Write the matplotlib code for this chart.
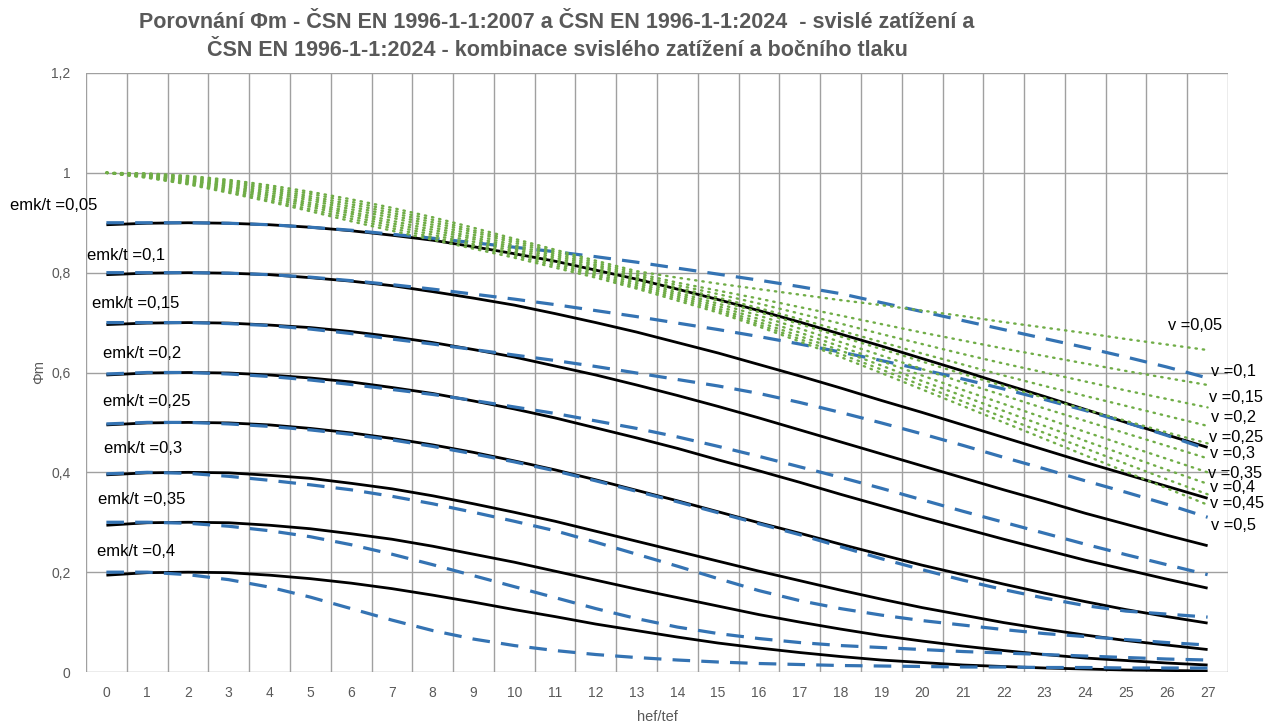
import matplotlib
matplotlib.use("Agg")
import matplotlib.pyplot as plt
from matplotlib.ticker import FixedLocator, FuncFormatter

# hef/tef categories
x = list(range(28))

emk_labels = ['0,05', '0,1', '0,15', '0,2', '0,25', '0,3', '0,35', '0,4']

# ČSN EN 1996-1-1:2007 - black solid lines
phi_2007 = [
    [.896, .899, .900, .899, .896, .891, .884, .875, .865, .852, .838, .823, .805, .787, .767, .746, .724, .701, .677, .653, .628, .603, .577, .552, .526, .500, .475, .450],
    [.796, .799, .800, .799, .796, .790, .783, .774, .762, .749, .735, .718, .700, .681, .660, .639, .616, .593, .569, .544, .520, .495, .470, .445, .420, .396, .372, .348],
    [.696, .699, .700, .699, .695, .690, .682, .672, .660, .646, .631, .613, .595, .575, .554, .532, .509, .485, .461, .437, .413, .389, .365, .342, .318, .296, .274, .253],
    [.595, .599, .600, .599, .595, .589, .581, .570, .558, .543, .527, .509, .489, .469, .448, .425, .403, .380, .356, .333, .310, .288, .266, .245, .224, .205, .186, .168],
    [.495, .499, .500, .499, .495, .488, .479, .468, .455, .440, .423, .405, .385, .364, .343, .321, .299, .278, .256, .235, .214, .195, .176, .158, .141, .125, .111, .098],
    [.395, .399, .400, .399, .394, .388, .378, .367, .353, .337, .320, .302, .282, .262, .242, .222, .202, .183, .164, .146, .129, .114, .099, .086, .074, .063, .054, .045],
    [.294, .299, .300, .299, .294, .287, .277, .266, .252, .236, .220, .202, .184, .166, .149, .132, .115, .100, .086, .073, .062, .052, .043, .035, .028, .023, .018, .014],
    [.194, .199, .200, .199, .194, .187, .178, .167, .154, .140, .125, .111, .096, .083, .070, .058, .048, .039, .031, .024, .019, .014, .011, .008, .006, .004, .003, .002],
]

# ČSN EN 1996-1-1:2024 - blue dashed lines
phi_2024 = [
    [.900, .900, .900, .899, .896, .891, .885, .877, .869, .860, .851, .842, .832, .821, .809, .797, .785, .772, .758, .740, .722, .704, .686, .668, .650, .631, .611, .589],
    [.800, .800, .800, .799, .796, .791, .784, .776, .767, .757, .747, .736, .724, .712, .699, .686, .672, .657, .641, .624, .606, .587, .567, .546, .524, .500, .474, .446],
    [.700, .700, .700, .698, .694, .687, .678, .667, .657, .646, .635, .624, .612, .599, .586, .573, .558, .540, .520, .499, .477, .454, .430, .407, .383, .360, .336, .310],
    [.597, .600, .600, .597, .592, .585, .576, .566, .556, .544, .531, .518, .503, .488, .471, .452, .432, .411, .390, .368, .345, .322, .300, .278, .256, .235, .215, .195],
    [.497, .500, .500, .497, .492, .485, .476, .465, .452, .437, .421, .403, .383, .362, .341, .319, .297, .275, .251, .227, .205, .184, .165, .148, .133, .122, .116, .110],
    [.397, .400, .398, .392, .384, .375, .365, .352, .337, .320, .302, .283, .260, .236, .212, .187, .163, .143, .127, .114, .103, .094, .085, .077, .071, .065, .059, .054],
    [.300, .300, .298, .292, .283, .271, .255, .236, .215, .193, .171, .149, .127, .107, .090, .077, .067, .059, .053, .049, .045, .041, .038, .035, .032, .029, .026, .024],
    [.200, .200, .195, .185, .170, .150, .127, .104, .083, .066, .053, .043, .035, .029, .024, .020, .017, .015, .013, .012, .011, .010, .010, .009, .009, .008, .008, .008],
]

v_labels = ['0,05', '0,1', '0,15', '0,2', '0,25', '0,3', '0,35', '0,4', '0,45', '0,5']

# ČSN EN 1996-1-1:2024 - vertical load + lateral pressure, green dotted lines
phi_v = [
    [1.0, .999, .994, .986, .975, .962, .947, .930, .911, .890, .868, .846, .824, .803, .790, .778, .767, .756, .745, .735, .724, .713, .701, .690, .679, .667, .656, .645],
    [1.0, .998, .992, .983, .971, .958, .942, .925, .906, .885, .864, .842, .820, .799, .780, .764, .748, .731, .714, .697, .680, .664, .648, .633, .618, .603, .589, .575],
    [1.0, .997, .990, .980, .968, .953, .937, .920, .901, .881, .860, .838, .816, .795, .775, .757, .738, .718, .698, .677, .657, .637, .618, .600, .582, .564, .547, .530],
    [1.0, .996, .988, .977, .964, .949, .932, .915, .896, .876, .855, .834, .813, .791, .770, .750, .729, .707, .684, .661, .638, .616, .594, .573, .553, .533, .513, .493],
    [1.0, .995, .986, .974, .960, .945, .927, .910, .891, .871, .851, .830, .809, .787, .765, .744, .721, .697, .672, .647, .622, .597, .573, .549, .526, .503, .480, .458],
    [1.0, .994, .985, .972, .956, .940, .922, .904, .886, .867, .847, .826, .805, .783, .760, .738, .714, .688, .661, .634, .607, .580, .554, .528, .503, .478, .453, .428],
    [1.0, .993, .983, .969, .953, .936, .918, .899, .881, .862, .843, .822, .801, .779, .756, .733, .707, .680, .652, .623, .594, .565, .537, .509, .481, .454, .427, .400],
    [1.0, .992, .981, .966, .949, .932, .913, .894, .876, .857, .839, .818, .797, .775, .752, .728, .701, .673, .644, .614, .583, .553, .523, .493, .463, .434, .405, .377],
    [1.0, .991, .979, .963, .945, .927, .908, .889, .871, .853, .834, .814, .794, .771, .748, .724, .696, .667, .637, .606, .574, .542, .510, .479, .448, .417, .386, .356],
    [1.0, .990, .977, .960, .942, .923, .903, .884, .866, .848, .830, .810, .790, .768, .744, .720, .692, .662, .631, .599, .566, .533, .500, .467, .434, .401, .368, .335],
]

W, H = 1268, 722
fig = plt.figure(figsize=(W / 100, H / 100), dpi=100)
ax = fig.add_axes([86 / W, 1 - 672 / H, (1228 - 86) / W, (672 - 73) / H])

grid_col = '#a0a0a0'
txt_col = '#595959'
lab_font = ['Liberation Sans', 'DejaVu Sans']

for ys in phi_2007:
    ax.plot(x, ys, color='black', lw=2.0, solid_capstyle='butt', zorder=3)
for ys in phi_2024:
    ax.plot(x, ys, color='#3473b3', lw=2.3, dashes=(5.5, 3.5), zorder=4)
for ys in phi_v:
    ax.plot(x, ys, color='#70ad47', lw=1.7, dashes=(0.6, 2.5), dash_capstyle='round', zorder=5)

ax.set_xlim(-0.5, 27.5)
ax.set_ylim(0, 1.2)
ax.xaxis.set_major_locator(FixedLocator(x))
ax.xaxis.set_minor_locator(FixedLocator([i - 0.5 for i in range(29)]))
ax.yaxis.set_major_locator(FixedLocator([0, 0.2, 0.4, 0.6, 0.8, 1.0, 1.2]))
ax.yaxis.set_major_formatter(FuncFormatter(lambda v, p: ('%g' % round(v, 1)).replace('.', ',')))
ax.grid(False)
ax.grid(True, which='minor', axis='x', color=grid_col, lw=1.0)
ax.grid(True, which='major', axis='y', color=grid_col, lw=1.0)
ax.tick_params(axis='both', which='both', length=0, colors=txt_col, labelsize=10)
ax.tick_params(axis='x', pad=10)
ax.tick_params(axis='y', pad=11)
for s in ax.spines.values():
    s.set_visible(False)
for t in ax.get_xticklabels() + ax.get_yticklabels():
    t.set_family(lab_font)

ax.set_xlabel('hef/tef', color=txt_col, fontsize=10.5, family=lab_font, labelpad=7)
ax.set_ylabel('Φm', color=txt_col, fontsize=10.5, family=lab_font, labelpad=4)

title_font = ['Liberation Sans Narrow', 'Liberation Sans', 'DejaVu Sans']
fig.text(557 / W, 1 - 22 / H,
         'Porovnání Φm - ČSN EN 1996-1-1:2007 a ČSN EN 1996-1-1:2024  - svislé zatížení a',
         ha='center', va='center', fontsize=15.5, fontweight='bold', color=txt_col, family=title_font)
fig.text(557 / W, 1 - 51 / H,
         'ČSN EN 1996-1-1:2024 - kombinace svislého zatížení a bočního tlaku',
         ha='center', va='center', fontsize=15.5, fontweight='bold', color=txt_col, family=title_font)

# series labels placed like the text boxes in the original (pixel positions)
emk_pos = [(10, 205), (87, 255), (92, 303), (103, 353), (103, 402), (104, 449), (98, 499), (97, 552)]
for lab, (px, py) in zip(emk_labels, emk_pos):
    fig.text(px / W, 1 - py / H, 'emk/t =' + lab, ha='left', va='center',
             fontsize=12, color='black', family=lab_font)

v_pos = [(1168, 325), (1211, 372), (1209, 397), (1211, 417), (1209, 437),
         (1210, 453), (1208, 473), (1210, 488), (1210, 504), (1211, 525)]
for lab, (px, py) in zip(v_labels, v_pos):
    fig.text(px / W, 1 - py / H, 'v =' + lab, ha='left', va='center',
             fontsize=11.8, color='black', family=lab_font)

fig.savefig('out.png', dpi=100)
